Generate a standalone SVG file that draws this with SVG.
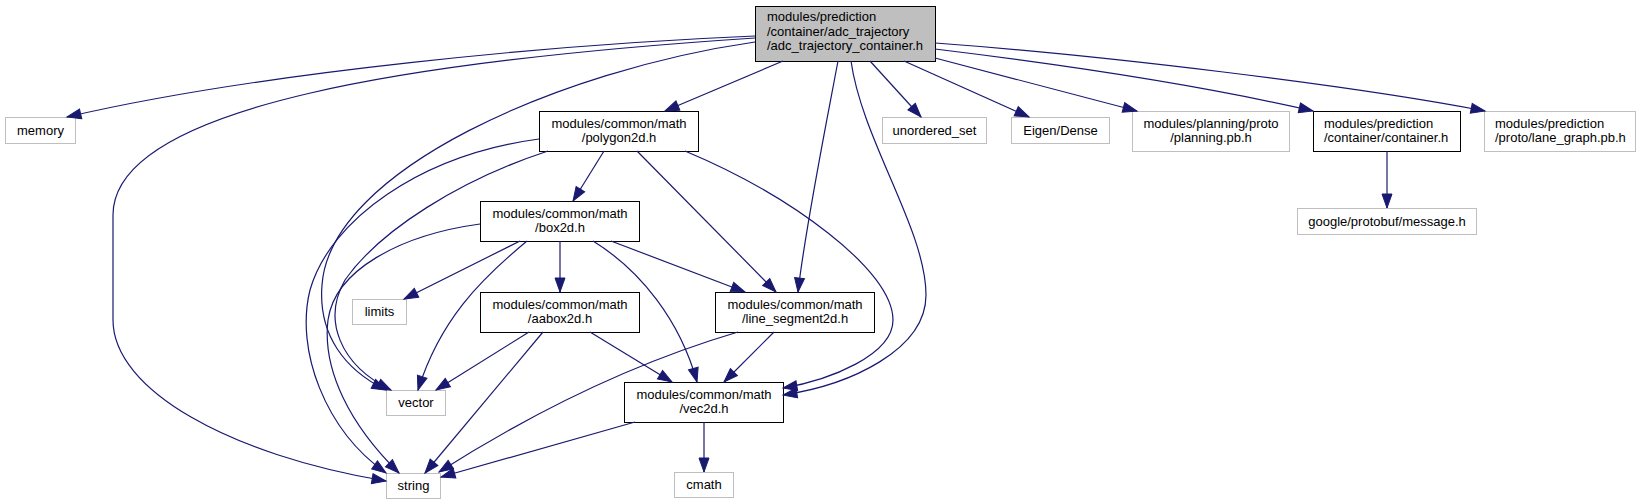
<svg xmlns="http://www.w3.org/2000/svg" width="1640" height="504" viewBox="0 0 1640 504">
<style>
text{font-family:"Liberation Sans",Arial,Helvetica,sans-serif;font-size:13px;fill:#000}
.c{text-anchor:middle}
.l{text-anchor:start}
.doc{fill:#fff;stroke:#000;stroke-width:1}
.ext{fill:#fff;stroke:#bfbfbf;stroke-width:1}
.main{fill:#bfbfbf;stroke:#000;stroke-width:1}
.e{fill:none;stroke:#191970;stroke-width:1.2;marker-end:url(#ah)}
</style>
<defs>
<marker id="ah" markerUnits="userSpaceOnUse" markerWidth="14" markerHeight="10" refX="14" refY="5" orient="auto" overflow="visible">
<path d="M0,0 L14,5 L0,10 Z" fill="#191970" stroke="#191970" stroke-width="1"/>
</marker>
</defs>
<rect width="1640" height="504" fill="#fff"/>
<g id="nodes">
<g id="n_main"><rect class="main" x="755.5" y="6.5" width="180" height="55"/><text class="l" x="767" y="21">modules/prediction</text><text class="l" x="767" y="35.5">/container/adc_trajectory</text><text class="l" x="767" y="50">/adc_trajectory_container.h</text></g>
<g id="n_memory"><rect class="ext" x="5.5" y="117.5" width="70" height="26"/><text class="c" x="40.5" y="134.5">memory</text></g>
<g id="n_polygon2d"><rect class="doc" x="539.5" y="111.5" width="159" height="40"/><text class="c" x="619" y="127.5">modules/common/math</text><text class="c" x="619" y="142">/polygon2d.h</text></g>
<g id="n_unordered_set"><rect class="ext" x="882.5" y="117.5" width="104" height="26"/><text class="c" x="934.5" y="134.5">unordered_set</text></g>
<g id="n_eigen"><rect class="ext" x="1011.5" y="117.5" width="98" height="26"/><text class="c" x="1060.5" y="134.5">Eigen/Dense</text></g>
<g id="n_planning"><rect class="ext" x="1132.5" y="111.5" width="157" height="40"/><text class="c" x="1211" y="127.5">modules/planning/proto</text><text class="c" x="1211" y="142">/planning.pb.h</text></g>
<g id="n_container"><rect class="doc" x="1313.5" y="111.5" width="147" height="40"/><text class="l" x="1324" y="127.5">modules/prediction</text><text class="l" x="1324" y="142">/container/container.h</text></g>
<g id="n_lane_graph"><rect class="ext" x="1484.5" y="111.5" width="151" height="40"/><text class="l" x="1495" y="127.5">modules/prediction</text><text class="l" x="1495" y="142">/proto/lane_graph.pb.h</text></g>
<g id="n_message"><rect class="ext" x="1297.5" y="208.5" width="179" height="26"/><text class="c" x="1387" y="225.5">google/protobuf/message.h</text></g>
<g id="n_box2d"><rect class="doc" x="480.5" y="201.5" width="159" height="40"/><text class="c" x="560" y="217.5">modules/common/math</text><text class="c" x="560" y="232">/box2d.h</text></g>
<g id="n_limits"><rect class="ext" x="352.5" y="299.5" width="54" height="25"/><text class="c" x="379.5" y="316">limits</text></g>
<g id="n_aabox2d"><rect class="doc" x="480.5" y="292.5" width="159" height="40"/><text class="c" x="560" y="308.5">modules/common/math</text><text class="c" x="560" y="323">/aabox2d.h</text></g>
<g id="n_line_segment2d"><rect class="doc" x="715.5" y="292.5" width="159" height="40"/><text class="c" x="795" y="308.5">modules/common/math</text><text class="c" x="795" y="323">/line_segment2d.h</text></g>
<g id="n_vector"><rect class="ext" x="386.5" y="390.5" width="59" height="25"/><text class="c" x="416" y="407">vector</text></g>
<g id="n_vec2d"><rect class="doc" x="624.5" y="382.5" width="159" height="40"/><text class="c" x="704" y="398.5">modules/common/math</text><text class="c" x="704" y="413">/vec2d.h</text></g>
<g id="n_string"><rect class="ext" x="386.5" y="473.5" width="54" height="25"/><text class="c" x="413.5" y="490">string</text></g>
<g id="n_cmath"><rect class="ext" x="674.5" y="472.5" width="59" height="25"/><text class="c" x="704" y="489">cmath</text></g>
</g>
<g id="connectors">
<path class="e" d="M755,36 C560,44 260,72 67,117"/>
<path class="e" d="M755,38 C420,60 113,105 113,215 L113,320 C113,390 230,455 386,481"/>
<path class="e" d="M755,42 C560,70 330,170 322,285 C318,335 345,370 386,390"/>
<path class="e" d="M783,61 L665,111"/>
<path class="e" d="M838,61 C825,130 805,230 798,292"/>
<path class="e" d="M851,61 C862,140 926,230 926,295 C926,350 850,385 783,395"/>
<path class="e" d="M870,61 L921,117"/>
<path class="e" d="M904,61 L1029,117"/>
<path class="e" d="M935,58 L1137,111"/>
<path class="e" d="M935,49 C1050,63 1200,85 1313,111"/>
<path class="e" d="M935,43 C1100,55 1350,85 1485,111"/>
<path class="e" d="M1387,151 L1387,208"/>
<path class="e" d="M539,139 C420,155 330,220 310,290 C295,350 325,430 386,473"/>
<path class="e" d="M548,151 C460,180 380,230 345,280 C322,320 340,365 391,390"/>
<path class="e" d="M604,151 L573,201"/>
<path class="e" d="M637,151 L776,292"/>
<path class="e" d="M685,151 C790,195 893,270 893,320 C893,355 830,380 783,388"/>
<path class="e" d="M480,224 C400,235 335,270 328,320 C322,370 350,425 399,473"/>
<path class="e" d="M520,241 L404,299"/>
<path class="e" d="M527,241 C480,280 440,320 418,390"/>
<path class="e" d="M560,241 L560,292"/>
<path class="e" d="M611,241 L745,292"/>
<path class="e" d="M593,241 C640,270 680,320 697,382"/>
<path class="e" d="M590,332 L672,382"/>
<path class="e" d="M529,332 L436,390"/>
<path class="e" d="M543,332 L425,473"/>
<path class="e" d="M774,332 L724,382"/>
<path class="e" d="M738,332 C660,355 560,395 439,472"/>
<path class="e" d="M635,422 L441,477"/>
<path class="e" d="M704,422 L704,472"/>
</g>
</svg>
